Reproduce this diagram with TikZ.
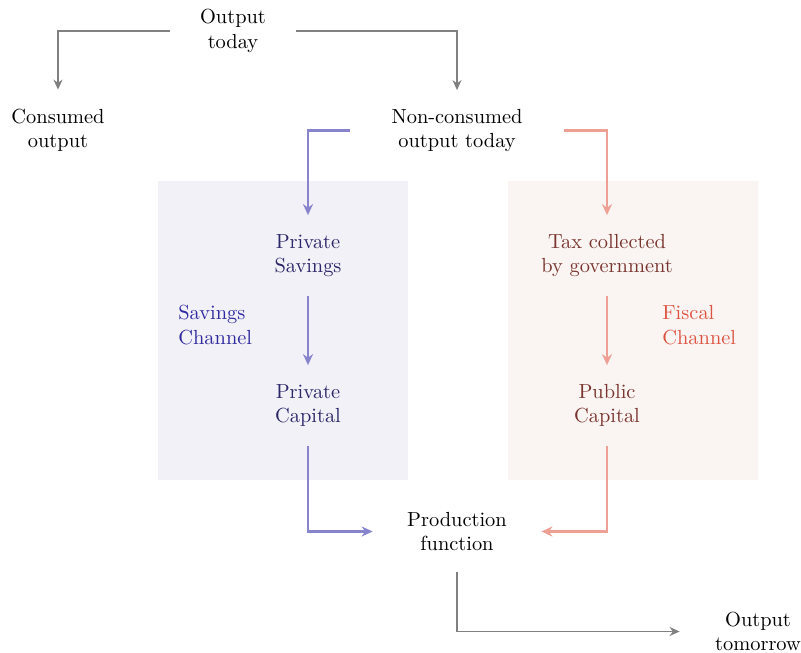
\documentclass[tikz,border=0pt]{standalone}
\usetikzlibrary{arrows.meta}
\definecolor{linegray}{HTML}{808080}
\definecolor{blueline}{HTML}{8784CC}
\definecolor{pinkline}{HTML}{EEA095}
\definecolor{bluebg}{HTML}{F2F1F8}
\definecolor{pinkbg}{HTML}{FAF5F3}
\definecolor{bluetext}{HTML}{2B2768}
\definecolor{bluelabel}{HTML}{2F2AA0}
\definecolor{redtext}{HTML}{7A342E}
\definecolor{redlabel}{HTML}{DE5442}
\tikzset{
  box/.style={align=center, inner sep=0pt, minimum height=40pt, font=\fontsize{10.2}{12.2}\selectfont},
  grayarrow/.style={draw=linegray, line width=0.8pt, -{Stealth[length=5pt,width=4.5pt]}},
  bluearrow/.style={draw=blueline, line width=1.4pt, -{Stealth[length=5.5pt,width=5pt]}},
  pinkarrow/.style={draw=pinkline, line width=1.4pt, -{Stealth[length=5.5pt,width=5pt]}},
  chanlabel/.style={align=left, anchor=west, inner sep=0pt, font=\fontsize{10.2}{12.2}\selectfont},
}
\begin{document}
\begin{tikzpicture}[x=0.5pt, y=-0.5pt]
\useasboundingbox (0,0) rectangle (801,652);
\fill[bluebg] (158,181) rectangle (408,480);
\fill[pinkbg] (508,181) rectangle (758,480);

\node[box, minimum width=63pt] (out) at (233,31) {Output\\today};
\node[box] (cons) at (58,130) {Consumed\\output};
\node[box, minimum width=107pt] (noncons) at (457,130.5) {Non-consumed\\output today};
\node[box, text=bluetext] (psav) at (308,255.5) {Private\\Savings};
\node[box, text=bluetext] (pcap) at (308,405.5) {Private\\Capital};
\node[box, text=redtext] (tax) at (607,255.5) {Tax collected\\by government};
\node[box, text=redtext] (pubcap) at (607,405.5) {Public\\Capital};
\node[box, minimum width=84pt] (prod) at (457,531.5) {Production\\function};
\node[box, minimum width=78pt] (tomorrow) at (758,631.5) {Output\\tomorrow};
\node[chanlabel, text=bluelabel] (schan) at (178,325) {Savings\\Channel};
\node[chanlabel, text=redlabel] (fchan) at (662,325) {Fiscal\\Channel};

\draw[grayarrow] (out.west) -| (cons.north);
\draw[grayarrow] (out.east) -| (noncons.north);
\draw[bluearrow] (noncons.west) -| (psav.north);
\draw[pinkarrow] (noncons.east) -| (tax.north);
\draw[bluearrow] (psav.south) -- (pcap.north);
\draw[pinkarrow] (tax.south) -- (pubcap.north);
\draw[bluearrow] (pcap.south) |- (prod.west);
\draw[pinkarrow] (pubcap.south) |- (prod.east);
\draw[grayarrow] (prod.south) |- (tomorrow.west);
\end{tikzpicture}
\end{document}
